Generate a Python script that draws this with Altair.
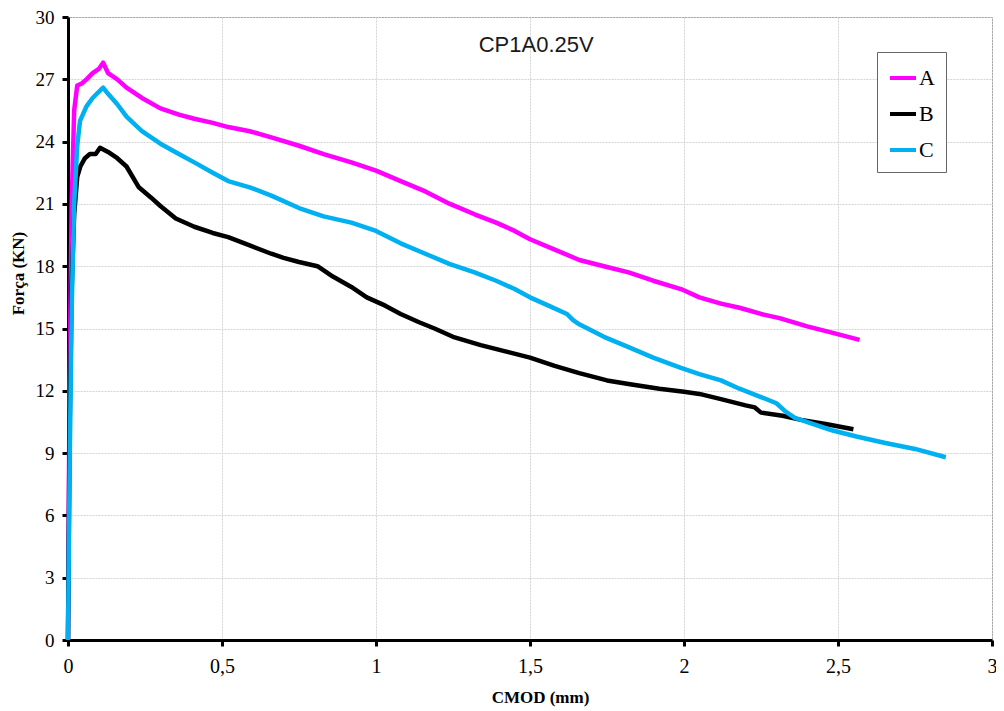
import altair as alt
import pandas as pd

# Series A (magenta)
a_x = [0, 0.005, 0.012, 0.02, 0.03, 0.045, 0.06, 0.08, 0.1, 0.114, 0.13, 0.16, 0.19, 0.24, 0.30,
       0.36, 0.41, 0.47, 0.52, 0.59, 0.66, 0.75, 0.83, 0.92, 1.0, 1.08, 1.16, 1.24, 1.32, 1.39,
       1.45, 1.5, 1.58, 1.66, 1.74, 1.82, 1.9, 1.99, 2.05, 2.12, 2.18, 2.25, 2.31, 2.4, 2.48, 2.57]
a_y = [0, 12, 21, 25.5, 26.7, 26.8, 27.0, 27.3, 27.5, 27.8, 27.3, 27.0, 26.6, 26.1, 25.6,
       25.3, 25.1, 24.9, 24.7, 24.5, 24.2, 23.8, 23.4, 23.0, 22.6, 22.1, 21.6, 21.0, 20.5, 20.1,
       19.7, 19.3, 18.8, 18.3, 18.0, 17.7, 17.3, 16.9, 16.5, 16.2, 16.0, 15.7, 15.5, 15.1, 14.8, 14.45]

# Series B (black)
b_x = [0, 0.005, 0.012, 0.02, 0.03, 0.04, 0.055, 0.071, 0.09, 0.104, 0.13, 0.16, 0.19, 0.23, 0.27,
       0.30, 0.35, 0.41, 0.47, 0.52, 0.59, 0.66, 0.70, 0.75, 0.81, 0.86, 0.92, 0.97, 1.03, 1.08,
       1.14, 1.19, 1.25, 1.34, 1.42, 1.5, 1.58, 1.66, 1.75, 1.83, 1.92, 2.0, 2.05, 2.12, 2.2,
       2.23, 2.25, 2.32, 2.38, 2.46, 2.55]
b_y = [0, 10, 17, 20.5, 22.3, 22.8, 23.2, 23.4, 23.4, 23.7, 23.5, 23.2, 22.8, 21.8, 21.3,
       20.9, 20.3, 19.9, 19.6, 19.4, 19.0, 18.6, 18.4, 18.2, 18.0, 17.5, 17.0, 16.5, 16.1, 15.7,
       15.3, 15.0, 14.6, 14.2, 13.9, 13.6, 13.2, 12.85, 12.5, 12.3, 12.1, 11.95, 11.85, 11.6, 11.3,
       11.2, 10.95, 10.8, 10.6, 10.4, 10.15]

# Series C (cyan)
c_x = [0, 0.005, 0.012, 0.02, 0.03, 0.039, 0.06, 0.08, 0.1, 0.114, 0.13, 0.16, 0.19, 0.24, 0.30,
       0.36, 0.41, 0.47, 0.52, 0.59, 0.66, 0.75, 0.83, 0.92, 1.0, 1.08, 1.16, 1.24, 1.32, 1.39,
       1.45, 1.5, 1.56, 1.62, 1.64, 1.66, 1.74, 1.82, 1.9, 1.99, 2.05, 2.12, 2.18, 2.25, 2.30,
       2.33, 2.36, 2.42, 2.48, 2.56, 2.65, 2.75, 2.85]
c_y = [0, 8, 16, 21, 23.8, 25.0, 25.7, 26.1, 26.4, 26.6, 26.3, 25.8, 25.2, 24.5, 23.9,
       23.4, 23.0, 22.5, 22.1, 21.8, 21.4, 20.8, 20.4, 20.1, 19.7, 19.1, 18.6, 18.1, 17.7, 17.3,
       16.9, 16.5, 16.1, 15.7, 15.4, 15.2, 14.6, 14.1, 13.6, 13.1, 12.8, 12.5, 12.1, 11.7, 11.4,
       11.0, 10.7, 10.4, 10.1, 9.8, 9.5, 9.2, 8.8]

series_names = ["A", "B", "C"]
series_colors = ["#FF00FF", "#000000", "#00B0F0"]
x_ticks = [0, 0.5, 1, 1.5, 2, 2.5, 3]
y_ticks = [0, 3, 6, 9, 12, 15, 18, 21, 24, 27, 30]
chart_label = "CP1A0.25V"
label_pos = (1.52, 28.65)

rows = []
for name, xs, ys in zip(series_names, [a_x, b_x, c_x], [a_y, b_y, c_y]):
    for i, (xv, yv) in enumerate(zip(xs, ys)):
        rows.append({"serie": name, "cmod": xv, "forca": yv, "idx": i})
df = pd.DataFrame(rows)

serif = "Liberation Serif"

x_enc = alt.X("cmod:Q",
              scale=alt.Scale(domain=[0, 3], nice=False),
              axis=alt.Axis(values=x_ticks,
                            labelExpr="replace(format(datum.value, '~g'), '.', ',')",
                            title="CMOD (mm)", titleFont=serif, titleFontWeight="bold",
                            titleFontSize=17, titleX=472, titleY=57, titleBaseline="middle",
                            titleAlign="center",
                            labelFont=serif, labelFontSize=20, labelColor="black",
                            labelPadding=10, labelFlush=False, labelOverlap=False,
                            tickColor="black", tickWidth=3, tickSize=6,
                            domainColor="black", domainWidth=3,
                            grid=True, gridColor="#d4d4d4", gridDash=[2, 1], gridWidth=1))
y_enc = alt.Y("forca:Q",
              scale=alt.Scale(domain=[0, 30], nice=False),
              axis=alt.Axis(values=y_ticks,
                            title="Força (KN)", titleFont=serif, titleFontWeight="bold",
                            titleFontSize=17, titleX=-50, titleY=256, titleAngle=270,
                            titleBaseline="middle", titleAlign="center",
                            labelFont=serif, labelFontSize=19, labelColor="black",
                            labelPadding=8, labelOverlap=False, labelFlush=False,
                            tickColor="black", tickWidth=3, tickSize=6,
                            domainColor="black", domainWidth=3,
                            grid=True, gridColor="#d4d4d4", gridDash=[2, 1], gridWidth=1))

lines = alt.Chart(df).mark_line(strokeWidth=4.5, strokeJoin="round").encode(
    x=x_enc,
    y=y_enc,
    order="idx:Q",
    color=alt.Color("serie:N",
                    scale=alt.Scale(domain=series_names, range=series_colors),
                    legend=alt.Legend(title=None, orient="none", legendX=809, legendY=35,
                                      strokeColor="#666666", fillColor="white", padding=11,
                                      symbolType="stroke", symbolSize=676, symbolStrokeWidth=4,
                                      labelFont=serif, labelFontSize=22, labelColor="black",
                                      labelOffset=1, rowPadding=10)),
)

lbl_df = pd.DataFrame({"cmod": [label_pos[0]], "forca": [label_pos[1]], "t": [chart_label]})
label = alt.Chart(lbl_df).mark_text(font="Liberation Sans", fontSize=22, color="#1a1a1a",
                                    align="center", baseline="middle").encode(
    x="cmod:Q", y="forca:Q", text="t:N")

chart = alt.layer(lines, label).properties(
    width=924, height=623,
    autosize=alt.AutoSizeParams(type="none"),
    padding={"left": 60, "top": 9, "right": 4, "bottom": 72},
    background="white",
).configure_view(stroke="#808080", strokeWidth=1)

chart.save("out.html", embed_options={"renderer": "svg", "actions": False})
